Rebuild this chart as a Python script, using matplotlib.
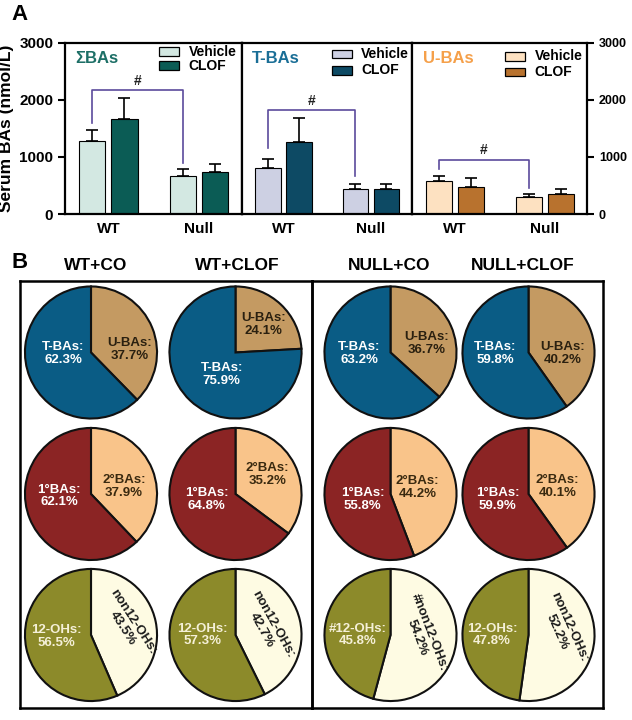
import numpy as np
import matplotlib
matplotlib.use('Agg')
import matplotlib.pyplot as plt
from matplotlib.patches import Rectangle

plt.rcParams['font.family'] = ['Liberation Sans', 'DejaVu Sans']
plt.rcParams['font.weight'] = 'bold'

# --- Panel A: serum bile acids (nmol/L) ---
genotypes = ['WT', 'Null']
panel_titles = ['\u03a3BAs', 'T-BAs', 'U-BAs']

sum_vehicle = [1275, 670]
sum_vehicle_sem = [200, 115]
sum_clof = [1655, 730]
sum_clof_sem = [385, 150]

t_vehicle = [797, 431]
t_vehicle_sem = [163, 87]
t_clof = [1261, 436]
t_clof_sem = [425, 82]

u_vehicle = [580, 298]
u_vehicle_sem = [80, 52]
u_clof = [470, 350]
u_clof_sem = [155, 85]

# bracket heights for the "#" comparison (WT vehicle vs Null vehicle)
bracket_left = [1590, 1150, 790]
bracket_top = [2170, 1815, 950]
bracket_right = [890, 670, 447]

# --- Panel B: composition (%) ---
pie_groups = ['WT+CO', 'WT+CLOF', 'NULL+CO', 'NULL+CLOF']
t_bas = [62.3, 75.9, 63.2, 59.8]
u_bas = [37.7, 24.1, 36.7, 40.2]
primary_bas = [62.1, 64.8, 55.8, 59.9]
secondary_bas = [37.9, 35.2, 44.2, 40.1]
oh12 = [56.5, 57.3, 45.8, 47.8]
non12 = [43.5, 42.7, 54.2, 52.2]
oh12_names = ['12-OHs', '12-OHs', '#12-OHs', '12-OHs']
non12_names = ['non12-OHs', 'non12-OHs', '#non12-OHs', 'non12-OHs']

W, H = 632, 720
fig = plt.figure(figsize=(W / 100, H / 100), dpi=100)


def px_rect(x0, y0, x1, y1):
    return [x0 / W, 1 - y1 / H, (x1 - x0) / W, (y1 - y0) / H]


# ---------------- Panel A ----------------
bar_series = [
    (sum_vehicle, sum_vehicle_sem, sum_clof, sum_clof_sem),
    (t_vehicle, t_vehicle_sem, t_clof, t_clof_sem),
    (u_vehicle, u_vehicle_sem, u_clof, u_clof_sem),
]
veh_colors = ['#d3e8e2', '#cdd0e3', '#fde1c1']
clof_colors = ['#0b5c55', '#0d4a64', '#b8722e']
title_colors = ['#1d6f66', '#1a6e96', '#f5a04a']
legend_y = [(0.946, 0.866), (0.934, 0.838), (0.922, 0.829)]
edges = [65, 241.7, 412, 587]
top, bottom = 42.7, 214

x = np.arange(len(genotypes))
bw = 0.29
off = 0.177
axes_a = []
for i in range(3):
    ax = fig.add_axes(px_rect(edges[i], top, edges[i + 1], bottom))
    axes_a.append(ax)
    veh, veh_sem, clof, clof_sem = bar_series[i]
    ax.bar(x - off, veh, bw, color=veh_colors[i], edgecolor='black', linewidth=0.8, zorder=2)
    ax.bar(x + off, clof, bw, color=clof_colors[i], edgecolor='black', linewidth=0.8, zorder=2)
    ax.errorbar(x - off, veh, yerr=[np.zeros(2), veh_sem], fmt='none', ecolor='black',
                elinewidth=1.2, capsize=4.5, capthick=1.2, zorder=3)
    ax.errorbar(x + off, clof, yerr=[np.zeros(2), clof_sem], fmt='none', ecolor='black',
                elinewidth=1.2, capsize=4.5, capthick=1.2, zorder=3)

    # significance bracket
    bx = [x[0] - off, x[0] - off, x[1] - off, x[1] - off]
    by = [bracket_left[i], bracket_top[i], bracket_top[i], bracket_right[i]]
    ax.plot(bx, by, color='#5b4a9c', lw=1.2, zorder=4)
    ax.text((x[0] + x[1]) / 2 - off, bracket_top[i] + 40, '#', ha='center', va='bottom',
            fontsize=10, color='#222222')

    ax.set_xlim(-0.478, 1.471)
    ax.set_ylim(0, 3000)
    ax.set_xticks(x)
    ax.set_xticklabels(genotypes, fontsize=11, fontweight='bold')
    ax.tick_params(axis='x', length=0, pad=6)
    for s in ax.spines.values():
        s.set_linewidth(1.6)

    ax.text(0.06, 0.905, panel_titles[i], transform=ax.transAxes, color=title_colors[i],
            fontsize=12, fontweight='bold', ha='left', va='center')

    # legend drawn as boxes + labels
    for (yc, col, lab) in [(legend_y[i][0], veh_colors[i], 'Vehicle'),
                           (legend_y[i][1], clof_colors[i], 'CLOF')]:
        ax.add_patch(Rectangle((0.53, yc - 0.026), 0.115, 0.052, transform=ax.transAxes,
                               facecolor=col, edgecolor='black', lw=0.9, zorder=5))
        ax.text(0.70, yc, lab, transform=ax.transAxes, fontsize=10, fontweight='bold',
                ha='left', va='center')

ax0, ax1, ax2 = axes_a
ax0.set_yticks([0, 1000, 2000, 3000])
ax0.tick_params(axis='y', direction='out', length=5, width=1.5, labelsize=11)
ax0.set_ylabel('Serum BAs (nmol/L)', fontsize=12.5, fontweight='bold', labelpad=4)
ax1.tick_params(axis='y', left=False, labelleft=False)
ax2.yaxis.tick_right()
ax2.set_yticks([0, 1000, 2000, 3000])
ax2.tick_params(axis='y', direction='out', length=5, width=1.5, labelsize=9)

fig.text(20 / W, 1 - 15 / H, 'A', fontsize=16, fontweight='bold', ha='center', va='center')
fig.text(20 / W, 1 - 262 / H, 'B', fontsize=16, fontweight='bold', ha='center', va='center')

# ---------------- Panel B ----------------
for (x0, x1) in [(20, 312), (312, 603)]:
    bax = fig.add_axes(px_rect(x0, 280.5, x1, 708))
    bax.set_xticks([])
    bax.set_yticks([])
    bax.patch.set_alpha(0)
    for s in bax.spines.values():
        s.set_linewidth(1.8)

col_x = [91, 235.5, 390.5, 528.5]
title_x = [96, 237, 389, 523]
row_y = [352.5, 494, 635]

for j, g in enumerate(pie_groups):
    fig.text(title_x[j] / W, 1 - 266 / H, g, fontsize=12.5, fontweight='bold',
             ha='center', va='center')

rows = [
    (u_bas, t_bas, ['#c49a62', '#0a5c85'], 'U-BAs', 'T-BAs'),
    (secondary_bas, primary_bas, ['#f9c48a', '#8b2424'], '2\u00b0BAs', '1\u00b0BAs'),
    (non12, oh12, ['#fefbe3', '#8c8a2a'], None, None),
]

# label offsets (fraction of radius) for the clockwise-first wedge and the other wedge
first_pos = [
    [(0.59, 0.05), (0.42, 0.42), (0.55, 0.14), (0.52, -0.02)],
    [(0.50, 0.12), (0.48, 0.30), (0.41, 0.10), (0.44, 0.12)],
    [(0.56, 0.15), (0.48, 0.12), (0.50, 0.00), (0.52, 0.08)],
]
second_pos = [
    [(-0.42, -0.02), (-0.21, -0.33), (-0.47, -0.02), (-0.50, -0.02)],
    [(-0.48, -0.03), (-0.44, -0.09), (-0.42, -0.08), (-0.47, -0.08)],
    [(-0.52, -0.02), (-0.50, 0.0), (-0.50, 0.0), (-0.55, 0.0)],
]
non12_rot = [-57, -61, -69, -66]
first_txt = ['#2a2010', '#3a2a10', '#1a1a1a']
second_txt = ['white', 'white', '#f5f0d8']

for i, (a_vals, b_vals, cols, a_name, b_name) in enumerate(rows):
    for j in range(4):
        cx, cy = col_x[j], row_y[i]
        pax = fig.add_axes(px_rect(cx - 70, cy - 70, cx + 70, cy + 70))
        pax.pie([a_vals[j], b_vals[j]], colors=cols, startangle=90, counterclock=False,
                radius=1, wedgeprops=dict(edgecolor='#111111', linewidth=1.5))
        pax.set_xlim(-1.06, 1.06)
        pax.set_ylim(-1.06, 1.06)
        pax.set_aspect('equal')
        pax.axis('off')
        if i < 2:
            la = f'{a_name}:\n{a_vals[j]:.1f}%'
            lb = f'{b_name}:\n{b_vals[j]:.1f}%'
            rot = 0
        else:
            la = f'{non12_names[j]}:\n{a_vals[j]:.1f}%'
            lb = f'{oh12_names[j]}:\n{b_vals[j]:.1f}%'
            rot = non12_rot[j]
        fx, fy = first_pos[i][j]
        sx, sy = second_pos[i][j]
        pax.text(fx, fy, la, ha='center', va='center', fontsize=9.5, fontweight='bold',
                 color=first_txt[i], rotation=rot, linespacing=1.1)
        pax.text(sx, sy, lb, ha='center', va='center', fontsize=9.5, fontweight='bold',
                 color=second_txt[i], linespacing=1.1)

fig.savefig('out.png', dpi=100)
